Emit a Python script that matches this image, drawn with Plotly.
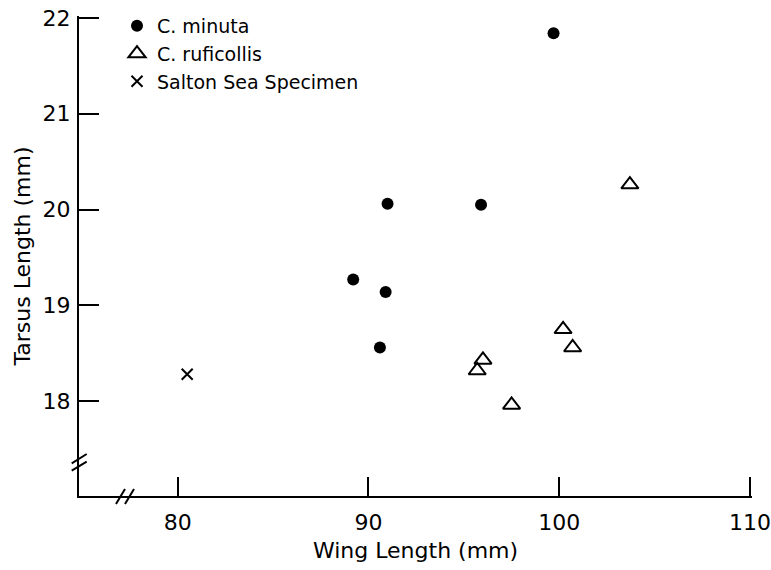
import plotly.graph_objects as go

# C. minuta
minuta_wing = [99.7, 91.0, 95.9, 89.2, 90.9, 90.6]
minuta_tarsus = [21.84, 20.06, 20.05, 19.27, 19.14, 18.56]
# C. ruficollis
rufi_wing = [103.7, 100.2, 100.7, 96.0, 95.7, 97.5]
rufi_tarsus = [20.26, 18.75, 18.56, 18.43, 18.32, 17.96]
# Salton Sea specimen
salton_wing = [80.5]
salton_tarsus = [18.28]

x_ticks = [80, 90, 100, 110]
y_ticks = [18, 19, 20, 21, 22]

FONT = "DejaVu Sans"
fig = go.Figure()
fig.add_trace(go.Scatter(x=minuta_wing, y=minuta_tarsus, mode="markers", name="C. minuta",
                         legendgroup="a",
                         marker=dict(symbol="circle", size=12, color="black")))
fig.add_trace(go.Scatter(x=rufi_wing, y=rufi_tarsus, mode="markers", name="C. ruficollis",
                         legendgroup="b",
                         marker=dict(symbol="triangle-up-open", size=15, color="black",
                                     line=dict(width=2, color="black"))))
fig.add_trace(go.Scatter(x=salton_wing, y=salton_tarsus, mode="markers", name="Salton Sea Specimen",
                         legendgroup="c",
                         marker=dict(symbol="x-thin-open", size=11, color="black",
                                     line=dict(width=2, color="black"))))

X_RANGE = [74.83, 110.1]
Y_RANGE = [17.01, 22.02]

W, H = 771, 570
L, R, T, B = 79, 19, 16, 74
pw, ph = W - L - R, H - T - B

def px2paper_x(px):
    return (px - L) / pw

def px2paper_y(py):
    return (H - B - py) / ph

shapes = []
# y-axis break marks
for (x0, y0, x1, y1) in [(71.7, 463.3, 86.7, 454), (71.7, 470.7, 86.7, 461.7)]:
    shapes.append(dict(type="line", xref="paper", yref="paper",
                       x0=px2paper_x(x0), y0=px2paper_y(y0), x1=px2paper_x(x1), y1=px2paper_y(y1),
                       line=dict(color="black", width=2)))
# x-axis break marks
for (x0, y0, x1, y1) in [(116, 504, 125, 489), (125, 504, 134, 489)]:
    shapes.append(dict(type="line", xref="paper", yref="paper",
                       x0=px2paper_x(x0), y0=px2paper_y(y0), x1=px2paper_x(x1), y1=px2paper_y(y1),
                       line=dict(color="black", width=2)))

fig.update_layout(
    width=W, height=H,
    margin=dict(l=L, r=R, t=T, b=B, autoexpand=False),
    paper_bgcolor="white", plot_bgcolor="white",
    font=dict(family=FONT, color="black", size=18),
    showlegend=True,
    legend=dict(x=px2paper_x(117), y=px2paper_y(7), xanchor="left", yanchor="top",
                bgcolor="rgba(0,0,0,0)", font=dict(size=19), tracegroupgap=0,
                itemwidth=30),
    shapes=shapes,
)
fig.update_xaxes(range=X_RANGE, tickvals=x_ticks, ticktext=[str(v) for v in x_ticks],
                 ticks="inside", ticklen=19, tickwidth=2, tickcolor="black", automargin=False,
                 showline=True, linewidth=2, linecolor="black", showgrid=False, zeroline=False,
                 tickfont=dict(size=22), ticklabelstandoff=6, ticklabeloverflow="allow",
                 title=dict(text="Wing Length (mm)", font=dict(size=22), standoff=8))
fig.update_yaxes(range=Y_RANGE, tickvals=y_ticks, ticktext=[str(v) for v in y_ticks],
                 ticks="inside", ticklen=20, tickwidth=2, tickcolor="black", automargin=False,
                 showline=True, linewidth=2, linecolor="black", showgrid=False, zeroline=False,
                 tickfont=dict(size=22), ticklabelstandoff=2, ticklabeloverflow="allow",
                 title=dict(text="Tarsus Length (mm)", font=dict(size=22), standoff=6))

# Remove the default page margin so the 771x570 figure fills the window exactly.
fig.write_html("out.html", config={"displayModeBar": False},
               post_script="document.body.style.margin='0';document.body.style.overflow='hidden';")
